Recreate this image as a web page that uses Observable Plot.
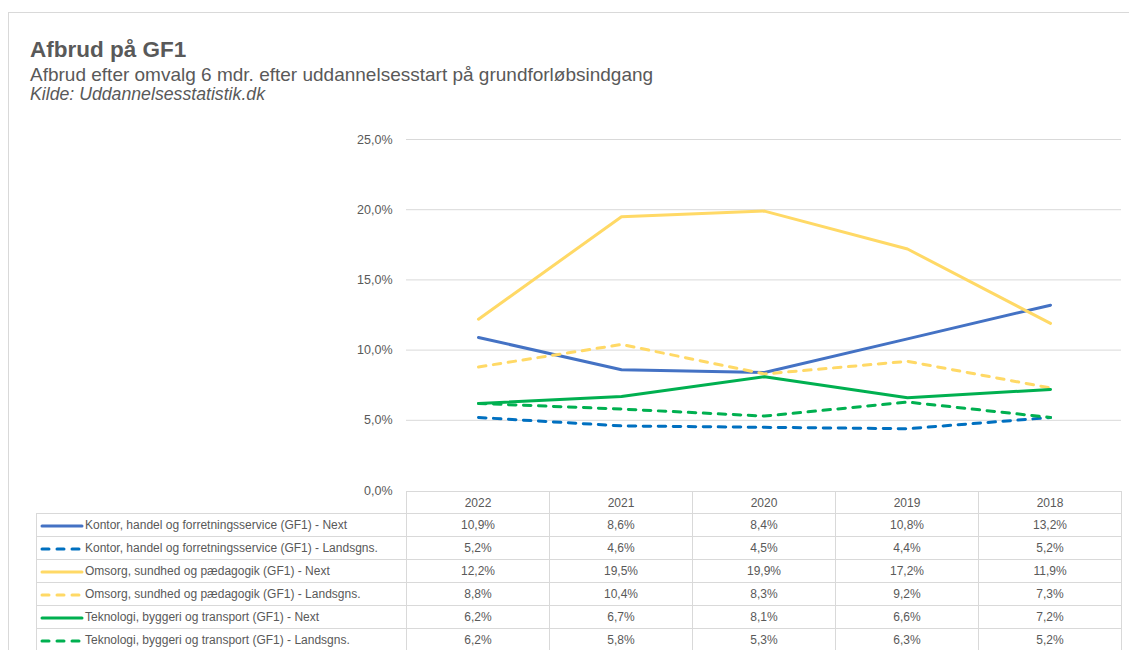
<!DOCTYPE html>
<html>
<head>
<meta charset="utf-8">
<script src="https://cdn.jsdelivr.net/npm/d3@7"></script>
<script src="https://cdn.jsdelivr.net/npm/@observablehq/plot@0.6"></script>
<style>
  html, body { margin: 0; padding: 0; background: #fff; }
  #wrap { position: relative; width: 1129px; height: 650px; overflow: hidden; background: #fff; }
  #frame { position: absolute; left: 8px; top: 12px; width: 1200px; height: 700px; border-top: 1px solid #d9d9d9; border-left: 1px solid #d9d9d9; }
  .t { position: absolute; left: 30px; color: #595959; font-family: "Liberation Sans", Arial, sans-serif; white-space: nowrap; line-height: 1; }
  #title { top: 39px; font-size: 22.5px; font-weight: bold; }
  #subtitle { top: 65px; font-size: 19px; }
  #source { top: 86px; font-size: 17.7px; font-style: italic; }
  #chart { position: absolute; left: 0; top: 0; }
  #tbl { position: absolute; left: 36px; top: 491px; border-collapse: collapse; table-layout: fixed;
         font-family: "Liberation Sans", Arial, sans-serif; font-size: 12px; color: #595959; }
  #tbl td { border: 1px solid #d9d9d9; height: 22px; padding: 0; text-align: center; white-space: nowrap; overflow: hidden; }
  #tbl tr.hdr td { height: 21px; }
  #tbl td.leg { text-align: left; padding-left: 3px; }
  #tbl td.blank { border-top: none; border-left: none; }
  #tbl svg { vertical-align: middle; margin-right: 1px; }
</style>
</head>
<body>
<div id="wrap">
  <div id="frame"></div>
  <div id="chart"></div>
  <div class="t" id="title">Afbrud på GF1</div>
  <div class="t" id="subtitle">Afbrud efter omvalg 6 mdr. efter uddannelsesstart på grundforløbsindgang</div>
  <div class="t" id="source">Kilde: Uddannelsesstatistik.dk</div>
  <table id="tbl"></table>
</div>
<script>
// ---- data ----
const years = ["2022", "2021", "2020", "2019", "2018"];
const seriesNames = [
  "Kontor, handel og forretningsservice (GF1) - Next",
  "Kontor, handel og forretningsservice (GF1) - Landsgns.",
  "Omsorg, sundhed og pædagogik (GF1) - Next",
  "Omsorg, sundhed og pædagogik (GF1) - Landsgns.",
  "Teknologi, byggeri og transport (GF1) - Next",
  "Teknologi, byggeri og transport (GF1) - Landsgns."
];
const kontorNext = [10.9, 8.6, 8.4, 10.8, 13.2];
const kontorLands = [5.2, 4.6, 4.5, 4.4, 5.2];
const omsorgNext = [12.2, 19.5, 19.9, 17.2, 11.9];
const omsorgLands = [8.8, 10.4, 8.3, 9.2, 7.3];
const teknoNext = [6.2, 6.7, 8.1, 6.6, 7.2];
const teknoLands = [6.2, 5.8, 5.3, 6.3, 5.2];
const seriesValues = [kontorNext, kontorLands, omsorgNext, omsorgLands, teknoNext, teknoLands];
const yTicks = [0, 5, 10, 15, 20, 25];

// ---- styles ----
const colors = ["#4472C4", "#0070C0", "#FFD966", "#FFD966", "#00B050", "#00B050"];
const dashed = [false, true, false, true, false, true];
const DASH = "7.5,7.5";

const fmt = v => v.toFixed(1).replace(".", ",") + "%";

const rows = [];
seriesNames.forEach((s, i) => years.forEach((y, j) => rows.push({series: s, year: y, value: seriesValues[i][j]})));

const chart = Plot.plot({
  width: 1129,
  height: 500,
  marginLeft: 406,
  marginRight: 8,
  marginTop: 139,
  marginBottom: 10,
  style: {background: "transparent", overflow: "visible", fontFamily: "'Liberation Sans', Arial, sans-serif", fontSize: "12.5px", color: "#595959"},
  x: {type: "point", domain: years, padding: 0.5, axis: null},
  y: {domain: [0, 25], ticks: yTicks, tickFormat: fmt, tickSize: 0, tickPadding: 14, label: null},
  marks: [
    Plot.ruleY(yTicks.filter(d => d > 0), {stroke: "#d9d9d9", strokeWidth: 1}),
    ...seriesNames.map((s, i) => Plot.line(rows.filter(r => r.series === s), {
      x: "year", y: "value",
      stroke: colors[i], strokeWidth: 3,
      strokeDasharray: dashed[i] ? DASH : null,
      strokeLinecap: "round",
      strokeLinejoin: "round"
    }))
  ]
});
document.getElementById("chart").appendChild(chart);

// ---- data table below the plot ----
const tbl = document.getElementById("tbl");
const colgroup = document.createElement("colgroup");
[370, 143, 143, 143, 143, 143].forEach(w => { const c = document.createElement("col"); c.style.width = w + "px"; colgroup.appendChild(c); });
tbl.appendChild(colgroup);
const hdr = document.createElement("tr");
hdr.className = "hdr";
hdr.innerHTML = `<td class="blank"></td>` + years.map(y => `<td>${y}</td>`).join("");
tbl.appendChild(hdr);
seriesNames.forEach((s, i) => {
  const tr = document.createElement("tr");
  const sw = `<svg width="44" height="6"><line x1="2" y1="3" x2="42" y2="3" stroke="${colors[i]}" stroke-width="3" stroke-linecap="round" ${dashed[i] ? 'stroke-dasharray="7,8"' : ''}/></svg>`;
  tr.innerHTML = `<td class="leg">${sw}${s}</td>` + seriesValues[i].map(v => `<td>${fmt(v)}</td>`).join("");
  tbl.appendChild(tr);
});
</script>
</body>
</html>
